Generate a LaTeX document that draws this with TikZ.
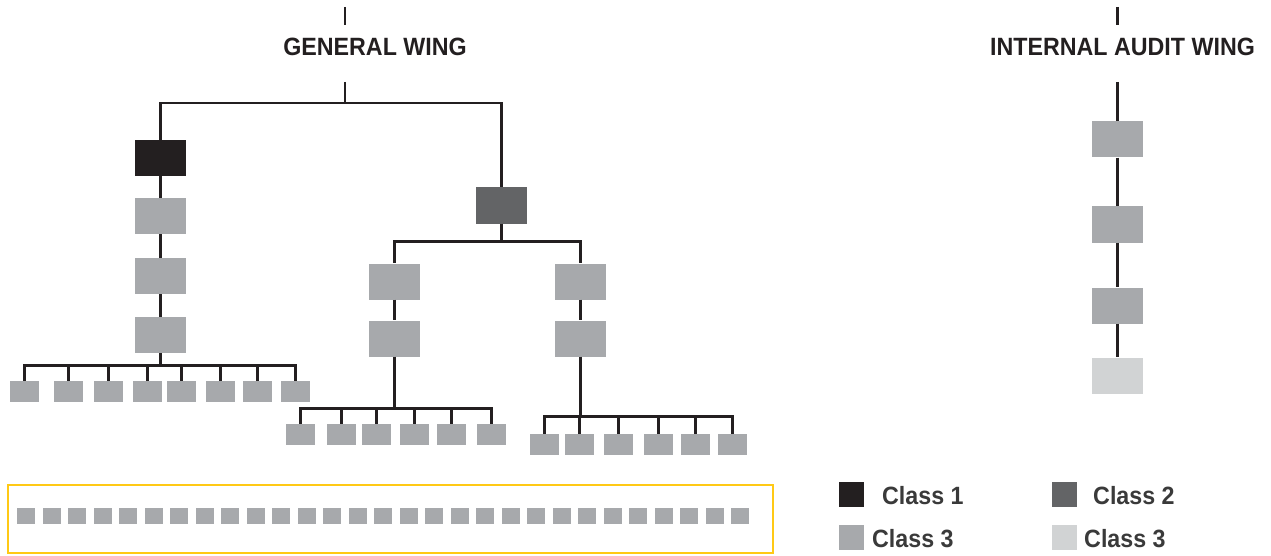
\documentclass[tikz,border=0pt]{standalone}
\usepackage{fontspec}
\newfontfamily\myfont{Liberation Sans}[FakeStretch=0.93]
\definecolor{cA}{HTML}{231F20}
\definecolor{cB}{HTML}{636466}
\definecolor{cC}{HTML}{A7A9AC}
\definecolor{cD}{HTML}{D1D3D4}
\definecolor{yel}{HTML}{FFC915}
\definecolor{legC}{HTML}{3A3A3A}
\begin{document}
\begin{tikzpicture}[x=1pt,y=-1pt,
  conn/.style={draw=cA, line width=2.6pt},
  bigbox/.style={rectangle, inner sep=0, minimum width=51pt, minimum height=36pt, fill=cC},
  smallbox/.style={rectangle, inner sep=0, minimum width=29pt, minimum height=21pt, fill=cC},
  tinybox/.style={rectangle, inner sep=0, minimum width=18pt, minimum height=16pt, fill=cC},
  legbox/.style={rectangle, inner sep=0, minimum width=25pt, minimum height=25pt},
  head/.style={inner sep=0, text=cA, font=\myfont\fontsize{25}{30}\selectfont\bfseries},
  legtext/.style={inner sep=0, anchor=base west, text=legC, font=\myfont\fontsize{25}{30}\selectfont\bfseries}
]
\useasboundingbox (0,0) rectangle (1271,556);

% ---- headings
\node[head] (gw) at (375,47) {GENERAL WING};
\node[head] (iaw) at (1122.5,47) {INTERNAL AUDIT WING};
\coordinate (gwt) at (345,7);
\coordinate (gwm) at (345,25);
\coordinate (gwl) at (345,82);
\coordinate (gwbar) at (345,103);
\coordinate (iat) at (1117.5,7);
\coordinate (iam) at (1117.5,25);
\coordinate (ial) at (1117.5,82);

% ---- general wing, left branch
\node[bigbox, fill=cA] (b1) at (160.5,158) {};
\node[bigbox] (b2) at (160.5,216) {};
\node[bigbox] (b3) at (160.5,276) {};
\node[bigbox] (b4) at (160.5,335) {};
\foreach \n/\x in {1/24.5,2/68.5,3/108.5,4/147.5,5/181.5,6/220.5,7/257.5,8/295.5}
  \node[smallbox] (ls\n) at (\x,391.5) {};

% ---- general wing, middle branch
\node[bigbox, fill=cB] (m1) at (501.5,205.5) {};
\node[bigbox] (ml1) at (394.5,281.5) {};
\node[bigbox] (ml2) at (394.5,338.5) {};
\node[bigbox] (mr1) at (580.5,281.5) {};
\node[bigbox] (mr2) at (580.5,338.5) {};
\foreach \n/\x in {1/300.5,2/341.5,3/376.5,4/414.5,5/451.5,6/491.5}
  \node[smallbox] (ms\n) at (\x,434.5) {};
\foreach \n/\x in {1/544.5,2/579.5,3/618.5,4/658.5,5/695.5,6/732.5}
  \node[smallbox] (rs\n) at (\x,444.5) {};

% ---- internal audit wing
\node[bigbox] (a1) at (1117.5,139.5) {};
\node[bigbox] (a2) at (1117.5,224.5) {};
\node[bigbox] (a3) at (1117.5,305.5) {};
\node[bigbox, fill=cD] (a4) at (1117.5,375.5) {};

% ---- connectors
\draw[conn] (gwt) -- (gwm);
\draw[conn] (iat) -- (iam);
\draw[conn] (gwl) -- (gwbar) -| (b1.north);
\draw[conn] (gwbar) -| (m1.north);
\draw[conn] (b1.south) -- (b2.north);
\draw[conn] (b2.south) -- (b3.north);
\draw[conn] (b3.south) -- (b4.north);
\draw[conn] (b4.south) -- ++(0,12) coordinate (lbar);
\foreach \n in {1,...,8} \draw[conn] (lbar) -| (ls\n.north);
\draw[conn] (m1.south) -- ++(0,17.5) coordinate (mbar);
\draw[conn] (mbar) -| (ml1.north);
\draw[conn] (mbar) -| (mr1.north);
\draw[conn] (ml1.south) -- (ml2.north);
\draw[conn] (mr1.south) -- (mr2.north);
\draw[conn] (ml2.south) -- ++(0,52) coordinate (mlbar);
\foreach \n in {1,...,6} \draw[conn] (mlbar) -| (ms\n.north);
\draw[conn] (mr2.south) -- ++(0,60) coordinate (mrbar);
\foreach \n in {1,...,6} \draw[conn] (mrbar) -| (rs\n.north);
\draw[conn] (ial) -- (a1.north);
\draw[conn] (a1.south) -- (a2.north);
\draw[conn] (a2.south) -- (a3.north);
\draw[conn] (a3.south) -- (a4.north);

% ---- bottom frame
\node[draw=yel, line width=2.5pt, rectangle, inner sep=0, minimum width=765pt, minimum height=68pt] (frame) at (390.5,519) {};
\foreach \i in {0,...,28}
  \node[tinybox] (t\i) at (26+\i*25.5,516) {};

% ---- legend
\node[legbox, fill=cA] (k1) at (851.5,494.5) {};
\node[legtext] (k1t) at (882,504) {Class 1};
\node[legbox, fill=cB] (k2) at (1064.5,494.5) {};
\node[legtext] (k2t) at (1093,504) {Class 2};
\node[legbox, fill=cC] (k3) at (851.5,537.5) {};
\node[legtext] (k3t) at (872,547.5) {Class 3};
\node[legbox, fill=cD] (k4) at (1064.5,537.5) {};
\node[legtext] (k4t) at (1084,547.5) {Class 3};
\end{tikzpicture}
\end{document}
